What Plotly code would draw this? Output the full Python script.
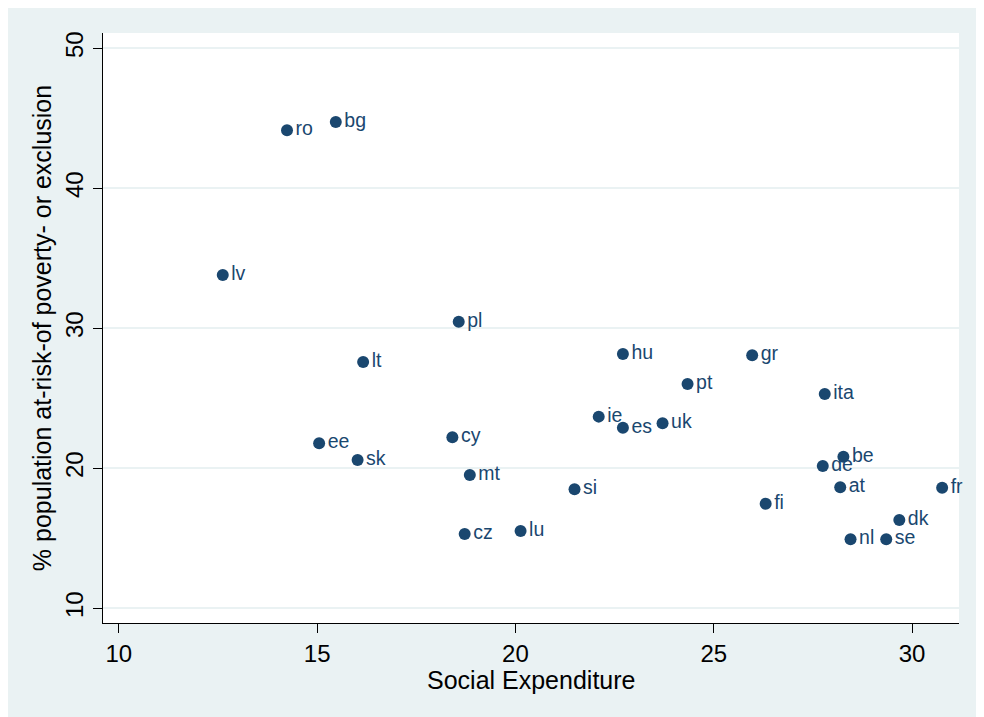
import plotly.graph_objects as go

countries = ["ro", "bg", "lv", "pl", "lt", "ee", "sk", "cy", "mt", "cz",
             "hu", "pt", "ie", "es", "uk", "si", "lu", "gr", "ita", "be",
             "de", "at", "fi", "fr", "dk", "nl", "se"]
social_expenditure = [14.24, 15.47, 12.62, 18.57, 16.16, 15.05, 16.02, 18.41, 18.85, 18.72,
                      22.71, 24.34, 22.10, 22.71, 23.71, 21.49, 20.13, 25.97, 27.80, 28.27,
                      27.75, 28.19, 26.31, 30.76, 29.68, 28.45, 29.35]
poverty_exclusion = [44.14, 44.74, 33.81, 30.47, 27.59, 21.79, 20.59, 22.21, 19.52, 15.31,
                     28.16, 26.02, 23.69, 22.90, 23.21, 18.50, 15.52, 28.07, 25.31, 20.83,
                     20.16, 18.64, 17.46, 18.61, 16.31, 14.93, 14.93]
x_ticks = [10, 15, 20, 25, 30]
y_ticks = [10, 20, 30, 40, 50]
x_title = "Social Expenditure"
y_title = "% population at-risk-of poverty- or exclusion"

NAVY = "#1A476F"
BG = "#EAF2F3"
FONT = "Liberation Sans, Arial, sans-serif"

fig = go.Figure()
fig.add_trace(go.Scatter(
    x=social_expenditure, y=poverty_exclusion, text=countries,
    mode="markers+text", textposition="middle right",
    marker=dict(color=NAVY, size=12, line=dict(width=0)),
    textfont=dict(color=NAVY, size=19.5, family=FONT),
    cliponaxis=False, showlegend=False, hoverinfo="skip",
))

W, H = 976, 709
L, R, T, B = 95, 25, 25, 94
ph = H - T - B

fig.update_layout(
    width=W, height=H, autosize=False,
    margin=dict(l=L, r=R, t=T, b=B, pad=0),
    paper_bgcolor=BG, plot_bgcolor="white",
    font=dict(family=FONT, color="black", size=24),
)
fig.add_annotation(
    text=x_title, xref="paper", yref="paper", x=0.5, y=-(679.5 - 623) / ph,
    xanchor="center", yanchor="middle", showarrow=False,
    font=dict(size=25, family=FONT, color="black"),
)
fig.update_xaxes(
    range=[9.6, 31.185], tickvals=x_ticks, ticktext=[str(v) for v in x_ticks],
    showgrid=False, zeroline=False,
    showline=True, linecolor="black", linewidth=1.3,
    ticks="outside", ticklen=9, tickwidth=1.3, tickcolor="black",
    tickfont=dict(size=24, family=FONT, color="black"),
)
fig.update_yaxes(
    range=[8.95, 51.09], tickvals=y_ticks, ticktext=[str(v) for v in y_ticks],
    showgrid=True, gridcolor=BG, gridwidth=2, zeroline=False,
    showline=True, linecolor="black", linewidth=1.3,
    ticks="outside", ticklen=9, tickwidth=1.3, tickcolor="black",
    tickangle=-90,
    tickfont=dict(size=24, family=FONT, color="black"),
    title=dict(text=y_title, font=dict(size=25, family=FONT, color="black"), standoff=2),
)

fig.write_html("out.html")
